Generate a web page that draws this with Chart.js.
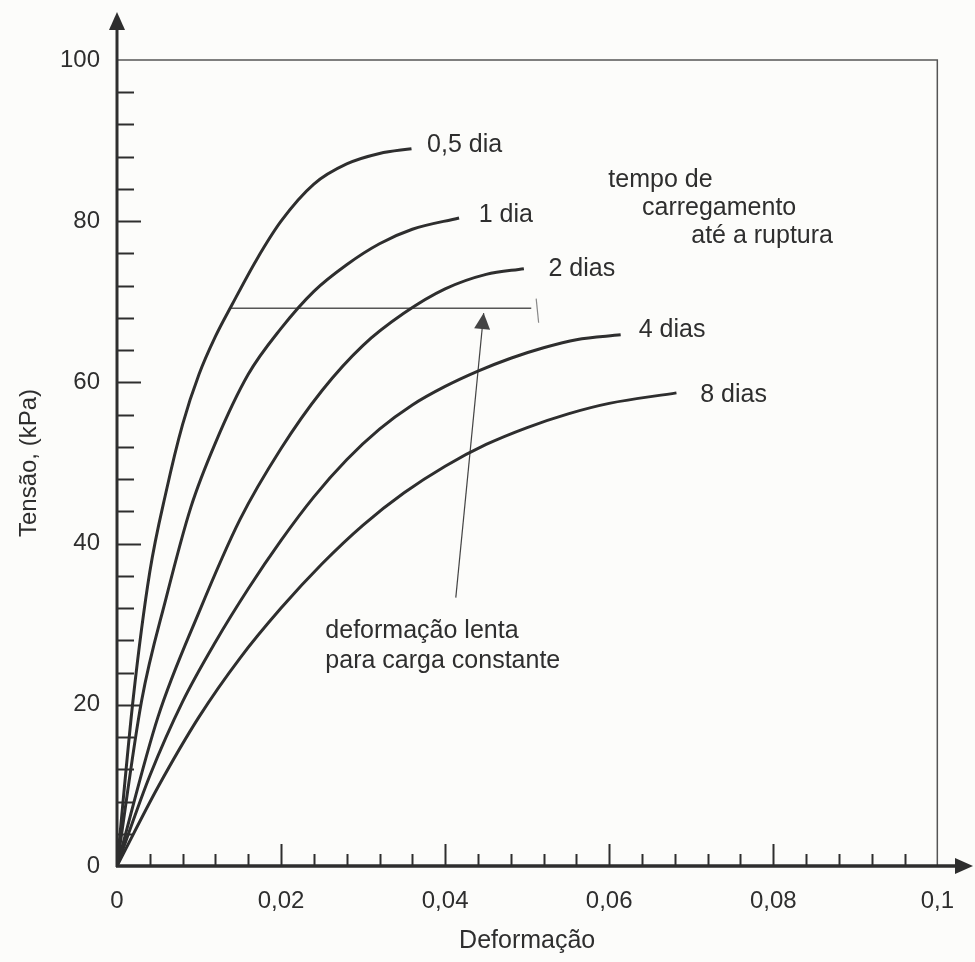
<!DOCTYPE html>
<html>
<head>
<meta charset="utf-8">
<script src="https://cdn.jsdelivr.net/npm/chart.js@4"></script>
<style>
  body { margin: 0; background: #fcfcfa; }
  #wrap { width: 975px; height: 962px; }
</style>
</head>
<body>
<div id="wrap"><canvas id="chart" width="975" height="962"></canvas></div>
<script>
// curvas tensão x deformação
const seriesNames = ['0,5 dia', '1 dia', '2 dias', '4 dias', '8 dias'];

const strainHalfDay = [0, 0.002, 0.004, 0.006, 0.008, 0.010, 0.012, 0.014, 0.017, 0.020, 0.024, 0.028, 0.032, 0.0359];
const stressHalfDay = [0, 21.0, 36.5, 46.5, 54.8, 61.0, 65.7, 69.6, 75.2, 80.0, 84.6, 87.1, 88.4, 89.0];

const strain1Day = [0, 0.003, 0.006, 0.009, 0.012, 0.016, 0.020, 0.024, 0.028, 0.032, 0.036, 0.0417];
const stress1Day = [0, 20.5, 33.3, 44.5, 52.5, 61.0, 66.7, 71.3, 74.6, 77.2, 79.0, 80.4];

const strain2Days = [0, 0.005, 0.010, 0.015, 0.020, 0.025, 0.030, 0.035, 0.040, 0.045, 0.0496];
const stress2Days = [0, 18.5, 31.5, 43.0, 51.8, 59.0, 64.6, 68.6, 71.6, 73.4, 74.1];

const strain4Days = [0, 0.004, 0.008, 0.012, 0.016, 0.020, 0.024, 0.028, 0.032, 0.036, 0.040, 0.044, 0.048, 0.052, 0.056, 0.0614];
const stress4Days = [0, 11.2, 20.4, 27.8, 34.4, 40.4, 45.8, 50.4, 54.2, 57.2, 59.5, 61.4, 63.0, 64.3, 65.3, 65.9];

const strain8Days = [0, 0.005, 0.010, 0.015, 0.020, 0.025, 0.030, 0.035, 0.040, 0.045, 0.050, 0.055, 0.060, 0.0682];
const stress8Days = [0, 9.8, 18.5, 25.8, 32.0, 37.5, 42.3, 46.3, 49.6, 52.3, 54.4, 56.1, 57.4, 58.7];

// carga constante (linha horizontal) e seta
const creepX = [0.0138, 0.0505];
const creepY = [69.2, 69.2];
const endMarkX = [0.0511, 0.0514];
const endMarkY = [70.4, 67.4];
const arrowX = [0.0413, 0.0447];
const arrowY = [33.3, 68.6];

// textos (posição em unidades do gráfico: início do texto, linha de base)
const curveLabelX = [0.0378, 0.0441, 0.0526, 0.0636, 0.0711];
const curveLabelY = [88.6, 79.9, 73.2, 65.6, 57.6];
const noteLines = ['tempo de', 'carregamento', 'até a ruptura', 'deformação lenta', 'para carga constante'];
const noteX = [0.0599, 0.0640, 0.0700, 0.0254, 0.0254];
const noteY = [84.2, 80.8, 77.3, 28.3, 24.6];

const ink = '#2e2e2e';
const fontFamily = '"Liberation Sans", Arial, sans-serif';

function pairs(xs, ys) {
    return xs.map((v, i) => ({ x: v, y: ys[i] }));
}

function isMajorX(v) {
    return Math.abs(v / 0.02 - Math.round(v / 0.02)) < 1e-6;
}

const curves = [
    [strainHalfDay, stressHalfDay],
    [strain1Day, stress1Day],
    [strain2Days, stress2Days],
    [strain4Days, stress4Days],
    [strain8Days, stress8Days]
];

const datasets = curves.map((c, i) => ({
    label: seriesNames[i],
    data: pairs(c[0], c[1]),
    borderColor: ink,
    borderWidth: 3,
    pointRadius: 0,
    showLine: true,
    cubicInterpolationMode: 'monotone'
}));

datasets.push({
    label: 'carga constante',
    data: pairs(creepX, creepY),
    borderColor: '#555',
    borderWidth: 1.5,
    pointRadius: 0,
    showLine: true
});
datasets.push({
    label: 'fim',
    data: pairs(endMarkX, endMarkY),
    borderColor: '#888',
    borderWidth: 1.2,
    pointRadius: 0,
    showLine: true
});
datasets.push({
    label: 'seta',
    data: pairs(arrowX, arrowY),
    borderColor: '#444',
    borderWidth: 1.2,
    pointRadius: 0,
    showLine: true
});

function triangle(ctx, tipX, tipY, dx, dy, len, half) {
    const n = Math.hypot(dx, dy);
    const ux = dx / n, uy = dy / n;
    const bx = tipX - ux * len, by = tipY - uy * len;
    ctx.beginPath();
    ctx.moveTo(tipX, tipY);
    ctx.lineTo(bx - uy * half, by + ux * half);
    ctx.lineTo(bx + uy * half, by - ux * half);
    ctx.closePath();
    ctx.fill();
}

const decor = {
    id: 'decor',
    beforeDatasetsDraw(chart) {
        const { ctx, chartArea: a, scales: { x, y } } = chart;
        ctx.save();
        // moldura
        ctx.strokeStyle = '#555';
        ctx.lineWidth = 1.5;
        ctx.beginPath();
        ctx.moveTo(a.left, a.top);
        ctx.lineTo(a.right, a.top);
        ctx.lineTo(a.right, a.bottom);
        ctx.stroke();

        // marcas internas dos eixos
        ctx.strokeStyle = ink;
        ctx.lineWidth = 2;
        y.ticks.forEach(t => {
            if (t.value <= 0 || t.value >= 100) return;
            const py = Math.round(y.getPixelForValue(t.value)) + 0.5;
            const len = t.value % 20 === 0 ? 24 : 17;
            ctx.beginPath();
            ctx.moveTo(a.left, py);
            ctx.lineTo(a.left + len, py);
            ctx.stroke();
        });
        x.ticks.forEach(t => {
            if (t.value <= 0 || t.value >= 0.0999) return;
            const px = Math.round(x.getPixelForValue(t.value)) + 0.5;
            const len = isMajorX(t.value) ? 22 : 12;
            ctx.beginPath();
            ctx.moveTo(px, a.bottom);
            ctx.lineTo(px, a.bottom - len);
            ctx.stroke();
        });

        // eixos com setas
        ctx.lineWidth = 3;
        ctx.beginPath();
        ctx.moveTo(a.left, a.bottom + 1);
        ctx.lineTo(a.left, 26);
        ctx.stroke();
        ctx.lineWidth = 3.5;
        ctx.beginPath();
        ctx.moveTo(a.left - 1, a.bottom);
        ctx.lineTo(960, a.bottom);
        ctx.stroke();
        ctx.fillStyle = ink;
        triangle(ctx, a.left, 12, 0, -1, 18, 8);
        triangle(ctx, 973, a.bottom, 1, 0, 18, 8);
        ctx.restore();
    },
    afterDatasetsDraw(chart) {
        const { ctx, scales: { x, y } } = chart;
        ctx.save();
        // ponta da seta
        const tx = x.getPixelForValue(arrowX[1]), ty = y.getPixelForValue(arrowY[1]);
        const sx = x.getPixelForValue(arrowX[0]), sy = y.getPixelForValue(arrowY[0]);
        ctx.fillStyle = '#444';
        triangle(ctx, tx, ty, tx - sx, ty - sy, 16, 8);

        ctx.fillStyle = ink;
        ctx.font = '25px ' + fontFamily;
        ctx.textAlign = 'left';
        ctx.textBaseline = 'alphabetic';
        seriesNames.forEach((name, i) => {
            ctx.fillText(name, x.getPixelForValue(curveLabelX[i]), y.getPixelForValue(curveLabelY[i]));
        });
        noteLines.forEach((line, i) => {
            ctx.fillText(line, x.getPixelForValue(noteX[i]), y.getPixelForValue(noteY[i]));
        });
        ctx.restore();
    }
};

new Chart(document.getElementById('chart').getContext('2d'), {
    type: 'scatter',
    data: { datasets: datasets },
    options: {
        responsive: false,
        animation: false,
        layout: { padding: { top: 60, right: 35, left: 0, bottom: 0 } },
        scales: {
            x: {
                type: 'linear',
                min: 0,
                max: 0.1,
                afterFit: (scale) => { scale.height = 96; },
                grid: { display: false, drawTicks: false },
                border: { display: false },
                ticks: {
                    stepSize: 0.004,
                    autoSkip: false,
                    maxRotation: 0,
                    padding: 21,
                    color: ink,
                    font: { family: fontFamily, size: 24 },
                    callback: (v) => isMajorX(v) ? parseFloat(v.toFixed(3)).toString().replace('.', ',') : ''
                },
                title: {
                    display: true,
                    text: 'Deformação',
                    color: ink,
                    font: { family: fontFamily, size: 25 },
                    padding: { top: 0, bottom: 6 }
                }
            },
            y: {
                type: 'linear',
                min: 0,
                max: 100,
                afterFit: (scale) => { scale.width = 117; },
                grid: { display: false, drawTicks: false },
                border: { display: false },
                ticks: {
                    stepSize: 4,
                    autoSkip: false,
                    padding: 17,
                    color: ink,
                    font: { family: fontFamily, size: 24 },
                    callback: (v) => v % 20 === 0 ? String(v) : ''
                },
                title: {
                    display: true,
                    text: 'Tensão, (kPa)',
                    color: ink,
                    font: { family: fontFamily, size: 24 },
                    padding: { top: 15, bottom: 0 }
                }
            }
        },
        plugins: {
            legend: { display: false },
            tooltip: { enabled: false }
        }
    },
    plugins: [decor]
});
</script>
</body>
</html>
